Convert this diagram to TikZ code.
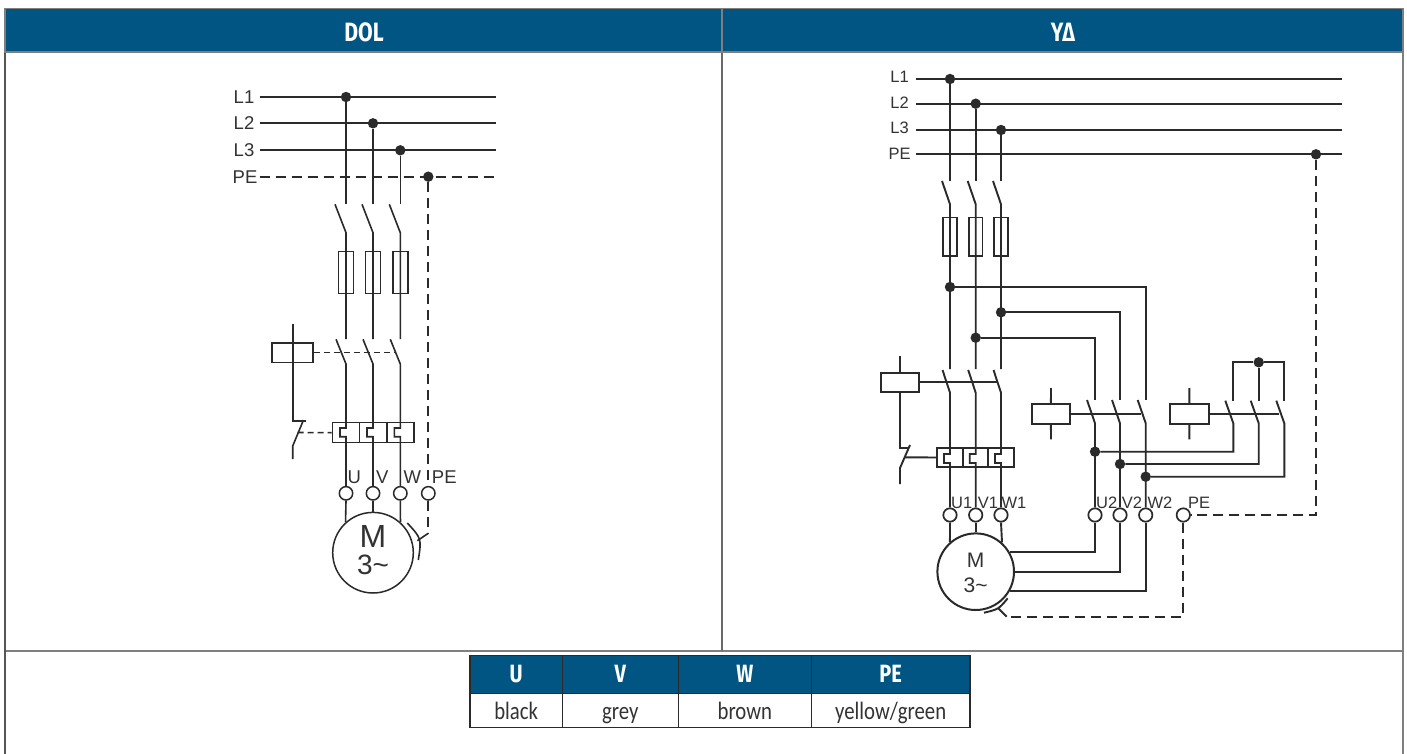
\documentclass[tikz,border=0pt]{standalone}
\usepackage{fontspec}
\setmainfont{Liberation Sans}
\newfontfamily\hdfont[FakeStretch=0.8]{Fira Sans}
\newfontfamily\tabfont[FakeStretch=0.83]{Carlito}
\definecolor{hdblue}{HTML}{005583}
\definecolor{wire}{HTML}{2A2A2A}
\definecolor{frame}{HTML}{7F7F7F}
\definecolor{txt}{HTML}{333333}
\tikzset{
  ln/.style={draw=wire,line width=1.6pt},
  lnb/.style={draw=wire,line width=1.9pt},
  dsh/.style={draw=wire,line width=1.7pt,dash pattern=on 10pt off 6pt},
  jdot/.style={circle,fill=wire,draw=none,minimum size=10.4pt,inner sep=0pt},
  term/.style={circle,draw=wire,fill=white,line width=1.5pt,minimum size=13.4pt,inner sep=0pt},
  box/.style={rectangle,inner sep=0pt,minimum width=#1},
  lbl/.style={text=txt,inner sep=0pt,font=\fontsize{18.5}{20}\selectfont},
  lbs/.style={text=txt,inner sep=0pt,font=\fontsize{16.5}{18}\selectfont},
  hdcell/.style={rectangle,fill=hdblue,draw=#1,line width=1.1pt,inner sep=0pt,text=white},
  tcell/.style={rectangle,draw=wire,line width=1.1pt,fill=white,inner sep=0pt,text=txt,text height=22pt,text depth=3pt},
}
\begin{document}
\begin{tikzpicture}[x=1pt,y=-1pt]
\useasboundingbox (0,0) rectangle (1407,754);
\fill[white] (0,0) rectangle (1407,754);
% ---- frame
\coordinate (fTL) at (5,52); \coordinate (fBL) at (5,754);
\coordinate (fTR) at (1403,52); \coordinate (fBR) at (1403,754);
\coordinate (fML) at (5,651); \coordinate (fMR) at (1403,651);
\coordinate (fCT) at (722,52); \coordinate (fCB) at (722,651);
\draw[frame,line width=1.6pt] (fML) -- (fMR);
\draw[wire!70!white,line width=1.3pt] (fCT) -- (fCB);
\draw[wire!80!white,line width=1.5pt] (fTL) -- (fBL);
\draw[frame,line width=1.6pt] (fTR) -- (fBR);
\node[hdcell=frame,minimum width=717pt,minimum height=43.5pt] (hDOL) at (363.5,30.25) {};
\node[hdcell=frame,minimum width=681pt,minimum height=43.5pt] (hYD) at (1062.5,30.25) {};
\node[text=white,inner sep=0pt,font=\hdfont\bfseries\fontsize{26.5}{28}\selectfont] (tDOL) at (364,32) {DOL};
\node[text=white,inner sep=0pt,font=\hdfont\bfseries\fontsize{26.5}{28}\selectfont] (tYD) at (1063,32) {YΔ};

% ---- colour table
\foreach \n/\cx/\w/\h/\c in {U/516.15/92.3/U/black,V/620.3/116/V/grey,W/744.8/133/W/brown,P/890.65/158.7/PE/yellow\slash green}{
  \node[hdcell=wire,minimum width=\w pt,minimum height=38pt,text height=17pt,text depth=0pt,font=\hdfont\bfseries\fontsize{25}{27}\selectfont] (tab\n) at (\cx,674.3) {\h};
  \node[tcell,minimum width=\w pt,minimum height=34pt,font=\tabfont\fontsize{25}{27}\selectfont] (val\n) at (\cx,710.3) {\c};
}

% ================= DOL =================
\foreach \n/\y/\t in {1/97/L1,2/123.3/L2,3/150.3/L3}{
  \node[lbl] (dL\n) at (244,\y) {\t};
  \coordinate (dL\n s) at (260,\y);
  \coordinate (dL\n e) at (496,\y);
  \draw[ln] (dL\n s) -- (dL\n e);
}
\node[lbl] (dPE) at (245,176.7) {PE};
\coordinate (dPEs) at (259.5,176.7); \coordinate (dPEe) at (496,176.7);
\draw[dsh] (dPEs) -- (dPEe);
\node[jdot] (dD1) at (346,97) {};
\node[jdot] (dD2) at (373,123.3) {};
\node[jdot] (dD3) at (400.3,150.3) {};
\node[jdot] (dD4) at (428.3,176.7) {};
\node[term] (dTU) at (346,493.3) {};
\node[term] (dTV) at (373,493.3) {};
\node[term] (dTW) at (400.3,493.3) {};
\node[term] (dTP) at (428.3,493.3) {};
\node[lbl,anchor=center] (dlU) at (354.3,477) {U};
\node[lbl,anchor=center] (dlV) at (382.3,477) {V};
\node[lbl,anchor=center] (dlW) at (412.3,477) {W};
\node[lbl,anchor=center] (dlP) at (444.3,477) {PE};
\node[circle,draw=wire,line width=1.5pt,minimum size=80.6pt,inner sep=0pt] (dM) at (373,552.7) {};
\node[text=txt,inner sep=0pt,font=\fontsize{32}{34}\selectfont] (dMt) at (373,536) {M};
\node[text=txt,inner sep=0pt,font=\fontsize{28}{30}\selectfont] (dMn) at (373,565) {3\char`\~};
% phases
\foreach \p/\x/\X in {1/346/U,2/373/V,3/400.3/W}{
  \coordinate (dA\p) at (\x,204);
  \coordinate (dB\p) at (\x-11,204.3);
  \coordinate (dC\p) at (\x,232.7);
  \coordinate (dE\p) at (\x,339);
  \coordinate (dF\p) at (\x-10,339.3);
  \coordinate (dG\p) at (\x,364);
  \coordinate (dH\p) at (\x,428);
  \coordinate (dI\p) at (\x-6,428);
  \coordinate (dJ\p) at (\x-6,436.7);
  \coordinate (dK\p) at (\x,436.7);
  \node[box=15pt,draw=wire,line width=1.5pt,minimum height=41.6pt] (dFu\p) at (\x,272.5) {};
  \draw[ln] (dD\p) -- (dA\p);
  \draw[ln] (dB\p) -- (dC\p) -- (dE\p);
  \draw[ln] (dF\p) -- (dG\p) -- (dH\p) -- (dI\p) -- (dJ\p) -- (dK\p) -- (dT\X.north);
}
\draw[ln] (dTU.south) -- (dM.132);
\draw[ln] (dTV.south) -- (dM.90);
\draw[ln] (dTW.south) -- (dM.48);
% thermal block
\node[box=27.4pt,draw=wire,line width=1.5pt,minimum height=20pt] (dTh1) at (346,432.7) {};
\node[box=27.3pt,draw=wire,line width=1.5pt,minimum height=20pt] (dTh2) at (373.35,432.7) {};
\node[box=27pt,draw=wire,line width=1.5pt,minimum height=20pt] (dTh3) at (400.5,432.7) {};
% contactor coil
\node[box=41pt,draw=wire,line width=1.6pt,minimum height=19.6pt] (dCoil) at (292.5,352.5) {};
\coordinate (dCt) at (292.7,324);
\coordinate (dCb) at (292.7,421);
\coordinate (dNh) at (306,421);
\coordinate (dNa) at (303.5,420);
\coordinate (dNb) at (292.7,446);
\coordinate (dNe) at (292.7,459);
\coordinate (dNm) at (297.5,432.5);
\coordinate (dKr) at (396,352.5);
\draw[ln] (dCt) -- (dCb) -- (dNh);
\draw[ln] (dNa) -- (dNb) -- (dNe);
\draw[ln,dash pattern=on 6pt off 4pt] (dCoil.east) -- (dKr);
\draw[ln,dash pattern=on 6pt off 4pt] (dNm) -- (dTh1.west);
% PE wire
\coordinate (dPa) at (428.3,533.3);
\coordinate (dPc) at (417.3,540.7);
\coordinate (dAa) at (407.3,523);
\coordinate (dAb) at (418.3,560);
\coordinate (dAc) at (421.6,538.5);
\draw[dsh] (dD4) -- (dTP.north);
\draw[dsh] (dTP.south) -- (dPa);
\draw[ln] (dPa) -- (dPc);
\draw[ln] (dAa) .. controls (dAc) .. (dAb);

% ================= Y-Delta =================
\foreach \n/\y/\ly/\t in {1/79/77.3/L1,2/103.7/102.3/L2,3/130/128.3/L3,4/154.3/153.7/PE}{
  \node[lbs] (yL\n) at (899.5,\ly) {\t};
  \coordinate (yL\n s) at (916,\y);
  \coordinate (yL\n e) at (1342,\y);
  \draw[lnb] (yL\n s) -- (yL\n e);
}
\node[jdot] (yD1) at (950,79) {};
\node[jdot] (yD2) at (975.7,103.7) {};
\node[jdot] (yD3) at (1001,130) {};
\node[jdot] (yD4) at (1316,154.3) {};
\node[jdot] (yJ1) at (950,287) {};
\node[jdot] (yJ2) at (975.7,337.7) {};
\node[jdot] (yJ3) at (1001,312.3) {};
\node[term,line width=1.7pt] (yTU) at (950,515) {};
\node[term,line width=1.7pt] (yTV) at (975.7,515) {};
\node[term,line width=1.7pt] (yTW) at (1001,515) {};
\node[term,line width=1.7pt] (yTa) at (1095,515) {};
\node[term,line width=1.7pt] (yTb) at (1120,515) {};
\node[term,line width=1.7pt] (yTc) at (1145.7,515) {};
\node[term,line width=1.7pt] (yTP) at (1183.3,515) {};
\foreach \nm/\x/\t in {lU/961.7/U1,lV/988/V1,lW/1014/W1,la/1106.7/U2,lb/1132/V2,lc/1160/W2,lP/1199/PE}{
  \node[lbs] (y\nm) at (\x,503) {\t};
}
\node[circle,draw=wire,line width=2pt,minimum size=76.6pt,inner sep=0pt] (yM) at (975.7,571.7) {};
\node[text=txt,inner sep=0pt,font=\fontsize{21}{23}\selectfont] (yMt) at (975.7,560) {M};
\node[text=txt,inner sep=0pt,font=\fontsize{21}{23}\selectfont] (yMn) at (975.7,585) {3\char`\~};
% phases
\foreach \p/\x/\X/\J in {1/950/U/1,2/975.7/V/2,3/1001/W/3}{
  \coordinate (yA\p) at (\x,181);
  \coordinate (yB\p) at (\x-8,181);
  \coordinate (yC\p) at (\x,204.3);
  \coordinate (yE\p) at (\x,369);
  \coordinate (yF\p) at (\x-7.5,370);
  \coordinate (yG\p) at (\x,392.7);
  \coordinate (yH\p) at (\x,454);
  \coordinate (yI\p) at (\x-6,454);
  \coordinate (yJa\p) at (\x-6,463);
  \coordinate (yK\p) at (\x,463);
  \node[box=13.7pt,draw=wire,line width=1.6pt,minimum height=38.4pt] (yFu\p) at (\x,236.5) {};
  \draw[lnb] (yD\p) -- (yA\p);
  \draw[lnb] (yB\p) -- (yC\p) -- (yE\p);
  \draw[lnb] (yF\p) -- (yG\p) -- (yH\p) -- (yI\p) -- (yJa\p) -- (yK\p) -- (yT\X.north);
}
\draw[lnb] (yTU.south) -- (yM.131.7);
\draw[lnb] (yTV.south) -- (yM.90);
\draw[lnb] (yTW.south) -- (yM.48.3);
% star/delta feeds
\coordinate (yS1t) at (1145.7,400);
\coordinate (yS2t) at (1120,400);
\coordinate (yS3t) at (1095,400);
\draw[lnb] (yJ1) -| (yS1t);
\draw[lnb] (yJ3) -| (yS2t);
\draw[lnb] (yJ2) -| (yS3t);
% thermal block
\node[box=26pt,draw=wire,line width=1.7pt,minimum height=19.6pt] (yTh1) at (950.3,457.5) {};
\node[box=25pt,draw=wire,line width=1.7pt,minimum height=19.6pt] (yTh2) at (975.8,457.5) {};
\node[box=25.7pt,draw=wire,line width=1.7pt,minimum height=19.6pt] (yTh3) at (1001.15,457.5) {};
% main contactor coil
\node[box=38.6pt,draw=wire,line width=1.9pt,minimum height=19.3pt,fill=white] (yCo1) at (900,382.3) {};
\coordinate (yC1t) at (900,356);
\coordinate (yC1b) at (900,448);
\coordinate (yNh) at (909,448);
\coordinate (yNa) at (910,445);
\coordinate (yNb) at (900,468);
\coordinate (yNe) at (900,484);
\coordinate (yNm) at (905,457.3);
\coordinate (yK1r) at (997,382.3);
\draw[lnb] (yC1t) -- (yCo1.north);
\draw[lnb] (yCo1.south) -- (yC1b) -- (yNh);
\draw[lnb] (yNa) -- (yNb) -- (yNe);
\draw[lnb] (yNm) -- (yTh1.west);
\draw[lnb] (yCo1.east) -- (yK1r);
% second contactor
\node[box=38.4pt,draw=wire,line width=1.9pt,minimum height=20pt] (yCo2) at (1050.9,414) {};
\coordinate (yC2t) at (1051,388); \coordinate (yC2b) at (1051,439.3);
\draw[lnb] (yC2t) -- (yCo2.north);
\draw[lnb] (yCo2.south) -- (yC2b);
\coordinate (yK2r) at (1141,414);
\draw[lnb] (yCo2.east) -- (yK2r);
\foreach \p/\x/\J in {a/1095/4,b/1120/5,c/1145.7/6}{
  \coordinate (yP\p) at (\x-8,400);
  \coordinate (yQ\p) at (\x,423.3);
  \draw[lnb] (yP\p) -- (yQ\p) -- (yT\p.north);
}
% third contactor
\node[box=38.7pt,draw=wire,line width=1.9pt,minimum height=20pt] (yCo3) at (1189.4,414) {};
\coordinate (yC3t) at (1189.3,388); \coordinate (yC3b) at (1189.3,439.3);
\draw[lnb] (yC3t) -- (yCo3.north);
\draw[lnb] (yCo3.south) -- (yC3b);
\coordinate (yK3r) at (1279,414);
\draw[lnb] (yCo3.east) -- (yK3r);
\node[jdot] (yStar) at (1258.7,362.3) {};
\coordinate (yR1t) at (1233.3,400.7); \coordinate (yR2t) at (1258.7,400.7); \coordinate (yR3t) at (1284.3,400.7);
\draw[lnb] (yR1t) |- (yStar);
\draw[lnb] (yR3t) |- (yStar);
\draw[lnb] (yR2t) -- (yStar);
\foreach \p/\x/\y/\J in {1/1233.3/451.7/yTa,2/1258.7/464/yTb,3/1284.3/476.7/yTc}{
  \coordinate (yRb\p) at (\x-8,400.7);
  \coordinate (yRc\p) at (\x,423.3);
  \coordinate (yRd\p) at (\x,\y);
}
\node[jdot] (yN1) at (1095,451.7) {};
\node[jdot] (yN2) at (1120,464) {};
\node[jdot] (yN3) at (1145.7,476.7) {};
\foreach \p in {1,2,3}{
  \draw[lnb] (yRb\p) -- (yRc\p) -- (yRd\p) -- (yN\p);
}
% motor outputs
\draw[lnb] (yM.30.5) -| (yTa.south);
\draw[lnb] (yM.0) -| (yTb.south);
\draw[lnb] (yM.-29.7) -| (yTc.south);
% PE
\coordinate (yPcor) at (1316,515);
\coordinate (yPd) at (1183.3,616.7);
\coordinate (yPl) at (1006.7,616.7);
\coordinate (yPt) at (998.3,608.3);
\coordinate (yAa) at (984,612.7);
\coordinate (yAb) at (1007.7,598.3);
\coordinate (yAc) at (998.5,609.3);
\draw[dsh] (yD4) -- (yPcor) -- (yTP.east);
\draw[dsh] (yTP.south) -- (yPd) -- (yPl);
\draw[lnb] (yPl) -- (yPt);
\draw[lnb] (yAa) .. controls (yAc) .. (yAb);
\end{tikzpicture}
\end{document}
